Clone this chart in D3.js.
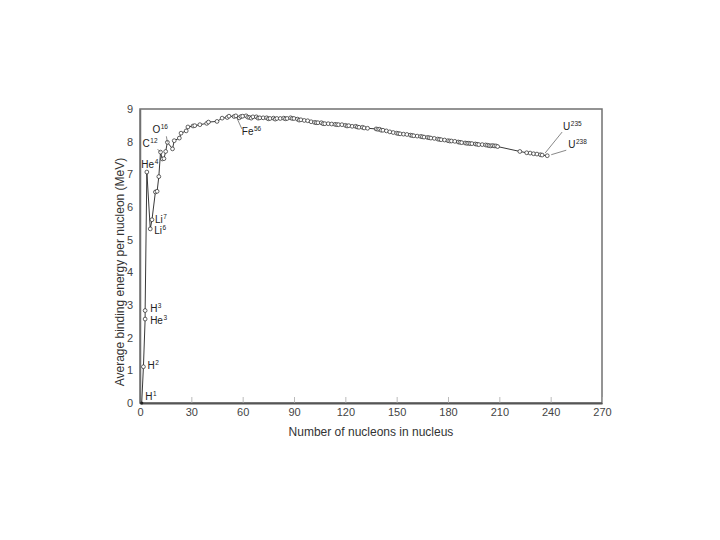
<!DOCTYPE html>
<html>
<head>
<meta charset="utf-8">
<script src="https://cdn.jsdelivr.net/npm/d3@7"></script>
<style>
  html, body { margin: 0; padding: 0; background: #fff; }
  svg { display: block; font-family: "Liberation Sans", Arial, sans-serif; }
</style>
</head>
<body>
<svg id="chart" width="720" height="540"></svg>
<script>
// ---------------- data ----------------
const massNumbers = [
  1, 2, 3, 3, 4, 6, 7, 9, 10, 11, 12, 13, 14, 15, 16, 19, 20, 23, 24, 27, 28, 31, 32, 35, 39, 40,
  45, 48, 51, 52, 55, 56, 58, 59, 60, 62, 63, 64, 65, 66, 68, 69, 70, 72, 74, 75, 76, 78, 79, 80,
  82, 84, 85, 86, 88, 89, 90, 92, 93, 94, 96, 98, 100, 102, 103, 104, 106, 107, 108, 110, 112,
  114, 115, 116, 118, 120, 121, 122, 124, 126, 127, 128, 130, 131, 133, 138, 139, 140, 141, 142,
  144, 146, 148, 150, 151, 152, 154, 156, 158, 159, 160, 162, 164, 165, 166, 168, 169, 170, 172,
  174, 175, 176, 178, 180, 181, 182, 184, 186, 187, 188, 190, 191, 192, 193, 194, 196, 197, 198,
  200, 202, 203, 204, 205, 206, 207, 208, 209, 222, 226, 228, 230, 232, 234, 235, 238
];
const bindingEnergy = [
  0.00, 1.11, 2.57, 2.83, 7.07, 5.33, 5.61, 6.46, 6.48, 6.93, 7.68, 7.47, 7.48, 7.70, 7.98, 7.78,
  8.03, 8.11, 8.26, 8.33, 8.45, 8.48, 8.49, 8.52, 8.56, 8.60,
  8.62, 8.72, 8.74, 8.78, 8.77, 8.79, 8.73, 8.77, 8.78, 8.79, 8.75, 8.74, 8.72, 8.76, 8.76, 8.72,
  8.73, 8.73, 8.73, 8.70, 8.71, 8.72, 8.69, 8.71,
  8.71, 8.72, 8.70, 8.71, 8.73, 8.71, 8.71, 8.69, 8.66, 8.67, 8.65, 8.64, 8.61, 8.59, 8.58, 8.58,
  8.58, 8.55, 8.55, 8.55, 8.54,
  8.53, 8.52, 8.52, 8.52, 8.50, 8.48, 8.49, 8.47, 8.47, 8.45, 8.44, 8.44, 8.42, 8.41, 8.39, 8.38,
  8.38, 8.35, 8.35,
  8.33, 8.30, 8.28, 8.26, 8.25, 8.24, 8.23, 8.22, 8.20, 8.19, 8.18, 8.17, 8.16, 8.15, 8.14, 8.13,
  8.12, 8.11, 8.10,
  8.08, 8.07, 8.06, 8.05, 8.03, 8.02, 8.02, 8.01, 7.99, 7.98, 7.97, 7.96, 7.95, 7.95, 7.94, 7.94,
  7.93, 7.92, 7.91,
  7.91, 7.90, 7.89, 7.88, 7.87, 7.88, 7.87, 7.87, 7.85, 7.70, 7.66, 7.65, 7.63, 7.62, 7.60, 7.59, 7.57
];
const xTicks = [0, 30, 60, 90, 120, 150, 180, 210, 240, 270];
const yTicks = [0, 1, 2, 3, 4, 5, 6, 7, 8, 9];

// annotated nuclides
const labelElements = ["H", "H", "H", "He", "He", "Li", "Li", "C", "O", "Fe", "U", "U"];
const labelMass     = ["1", "2", "3", "3", "4", "7", "6", "12", "16", "56", "235", "238"];
const labelA        = [1, 2, 3, 3, 4, 7, 6, 12, 16, 56, 235, 238];
const labelE        = [0.00, 1.11, 2.83, 2.57, 7.07, 5.61, 5.33, 7.68, 7.98, 8.79, 7.59, 7.57];

const xTitle = "Number of nucleons in nucleus";
const yTitle = "Average binding energy per nucleon (MeV)";

// ---------------- layout ----------------
// label offsets from the point [dx, dy] and leader-line endpoints (relative to point)
const labelLayout = [
  { dx: 3.5, dy: -3 },
  { dx: 4, dy: 2.5 },
  { dx: 5, dy: 1.5 },
  { dx: 5, dy: 4.5 },
  { dx: -5.5, dy: -4 },
  { dx: 3, dy: 3.5 },
  { dx: 4, dy: 5.5 },
  { dx: -18, dy: -5, lead: [-3, -3, 0, 0] },
  { dx: -15, dy: -9.5, lead: [-1, -6, 0, 0] },
  { dx: 6, dy: 19.5, lead: [1, 2, 6, 13] },
  { dx: 21, dy: -25, lead: [3, -2, 20, -23] },
  { dx: 21, dy: -7.5, lead: [4, -1, 19, -5.5] }
];

const svg = d3.select("#chart");
const plotLeft = 140, plotRight = 602, plotTop = 109, plotBottom = 403;
const x = d3.scaleLinear().domain([0, 270]).range([plotLeft, plotRight]);
const y = d3.scaleLinear().domain([0, 9]).range([plotBottom, plotTop]);

// frame
svg.append("rect")
  .attr("x", plotLeft).attr("y", plotTop)
  .attr("width", plotRight - plotLeft).attr("height", plotBottom - plotTop)
  .attr("fill", "none").attr("stroke", "#707070").attr("stroke-width", 1.5);

// x axis ticks (inward) and labels
const xAxis = d3.axisBottom(x).tickValues(xTicks).tickSizeInner(-6).tickSizeOuter(0).tickPadding(5);
const gx = svg.append("g").attr("transform", `translate(0,${plotBottom})`).call(xAxis);
gx.select(".domain").attr("stroke", "#555").attr("stroke-width", 2);
gx.selectAll(".tick line").attr("stroke", "#aaa").attr("stroke-width", 0.8);
gx.selectAll(".tick text").attr("font-size", 11).attr("fill", "#444")
  .attr("font-family", "Liberation Sans, Arial, sans-serif");

// y axis labels
const yAxis = d3.axisLeft(y).tickValues(yTicks).tickSize(0).tickPadding(7);
const gy = svg.append("g").attr("transform", `translate(${plotLeft},0)`).call(yAxis);
gy.select(".domain").attr("stroke", "#707070").attr("stroke-width", 1.5);
gy.selectAll(".tick text").attr("font-size", 11).attr("fill", "#444")
  .attr("font-family", "Liberation Sans, Arial, sans-serif");

// titles
svg.append("text")
  .attr("x", (plotLeft + plotRight) / 2).attr("y", 436)
  .attr("text-anchor", "middle").attr("font-size", 12).attr("fill", "#333")
  .text(xTitle);
svg.append("text")
  .attr("transform", "translate(124,272) rotate(-90)")
  .attr("text-anchor", "middle").attr("font-size", 12).attr("fill", "#333")
  .text(yTitle);

// curve
const pts = massNumbers.map((a, i) => [a, bindingEnergy[i]]);
svg.append("path")
  .datum(pts)
  .attr("fill", "none").attr("stroke", "#222").attr("stroke-width", 0.9)
  .attr("d", d3.line().x(d => x(d[0])).y(d => y(d[1])));

svg.append("g").selectAll("circle")
  .data(pts.slice(1))
  .join("circle")
  .attr("cx", d => x(d[0])).attr("cy", d => y(d[1]))
  .attr("r", 1.9)
  .attr("fill", "#fff").attr("stroke", "#222").attr("stroke-width", 0.7);
svg.append("circle").attr("cx", x(pts[0][0])).attr("cy", y(pts[0][1])).attr("r", 1.6).attr("fill", "#222");

// labels
const lg = svg.append("g");
labelElements.forEach((el, i) => {
  const px = x(labelA[i]), py = y(labelE[i]);
  const L = labelLayout[i];
  if (L.lead) {
    lg.append("line")
      .attr("x1", px + L.lead[0]).attr("y1", py + L.lead[1])
      .attr("x2", px + L.lead[2]).attr("y2", py + L.lead[3])
      .attr("stroke", "#555").attr("stroke-width", 0.7);
  }
  const t = lg.append("text")
    .attr("x", px + L.dx).attr("y", py + L.dy)
    .attr("font-size", 10).attr("fill", "#222");
  t.append("tspan").text(el);
  t.append("tspan").attr("font-size", 6.5).attr("dy", -4).attr("dx", 0.5).text(labelMass[i]);
});
</script>
</body>
</html>
